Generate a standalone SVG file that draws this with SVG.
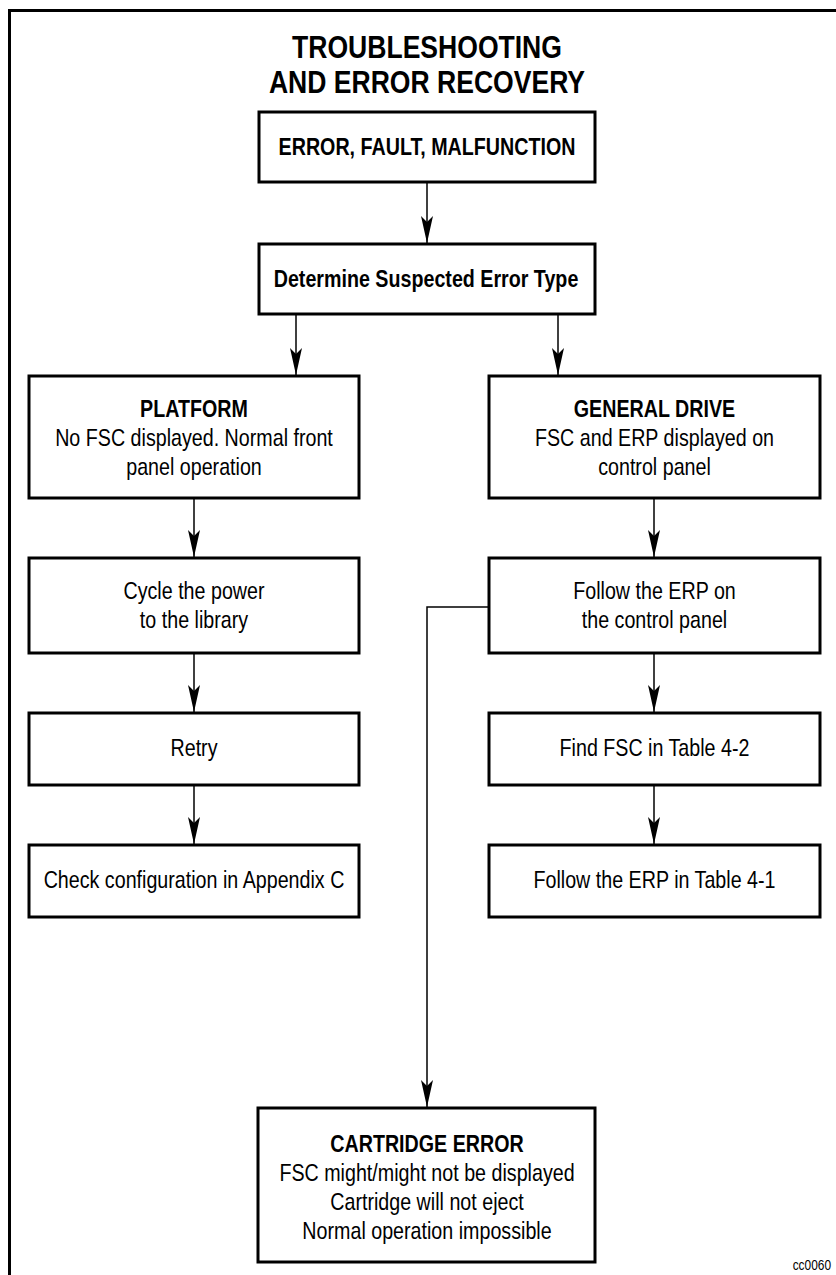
<svg xmlns="http://www.w3.org/2000/svg" width="836" height="1275" viewBox="0 0 836 1275">
<style>
.box{fill:#fff;stroke:#000;stroke-width:3}
.frame{fill:none;stroke:#000;stroke-width:3}
.conn{fill:none;stroke:#000;stroke-width:1.5}
text{font-family:"Liberation Sans",Arial,Helvetica,sans-serif;fill:#000;text-anchor:middle}
.t{font-size:32px;font-weight:bold}
.h{font-size:24px;font-weight:bold}
.b{font-size:24px}
.id{font-size:14px;text-anchor:end}
</style>
<defs>
<marker id="ah" viewBox="-27 -7 28 14" refX="0" refY="0" markerWidth="28" markerHeight="14" markerUnits="userSpaceOnUse" orient="auto">
<path d="M0,0 L-27,-6 L-21,0 L-27,6 Z" fill="#000"/>
</marker>
</defs>
<path class="frame" d="M9.5,1275 V10.5 H836"/>
<g id="title" transform="translate(427 0) scale(0.83 1)">
<text class="t" x="0" y="58">TROUBLESHOOTING</text>
<text class="t" x="0" y="93">AND ERROR RECOVERY</text>
</g>
<g id="connectors">
<path class="conn" d="M427,182 V243" marker-end="url(#ah)"/>
<path class="conn" d="M296,314 V375" marker-end="url(#ah)"/>
<path class="conn" d="M558,314 V375" marker-end="url(#ah)"/>
<path class="conn" d="M194,498 V557" marker-end="url(#ah)"/>
<path class="conn" d="M194,653 V712" marker-end="url(#ah)"/>
<path class="conn" d="M194,785 V844" marker-end="url(#ah)"/>
<path class="conn" d="M654,498 V557" marker-end="url(#ah)"/>
<path class="conn" d="M654,653 V712" marker-end="url(#ah)"/>
<path class="conn" d="M654,785 V844" marker-end="url(#ah)"/>
<path class="conn" d="M489,607 H427 V1107" marker-end="url(#ah)"/>
</g>
<g id="error">
<rect class="box" x="259" y="112" width="336" height="70"/>
<g transform="translate(427 0) scale(0.82 1)"><text class="h" x="0" y="155">ERROR, FAULT, MALFUNCTION</text></g>
</g>
<g id="determine">
<rect class="box" x="259" y="244" width="336" height="70"/>
<g transform="translate(426 0) scale(0.82 1)"><text class="h" x="0" y="287">Determine Suspected Error Type</text></g>
</g>
<g id="platform">
<rect class="box" x="29" y="376" width="330" height="122"/>
<g transform="translate(194 0) scale(0.82 1)">
<text class="h" x="0" y="417">PLATFORM</text>
<text class="b" x="0" y="446">No FSC displayed. Normal front</text>
<text class="b" x="0" y="475">panel operation</text>
</g>
</g>
<g id="general">
<rect class="box" x="489" y="376" width="331" height="122"/>
<g transform="translate(654.5 0) scale(0.82 1)">
<text class="h" x="0" y="417">GENERAL DRIVE</text>
<text class="b" x="0" y="446">FSC and ERP displayed on</text>
<text class="b" x="0" y="475">control panel</text>
</g>
</g>
<g id="cycle">
<rect class="box" x="29" y="558" width="330" height="95"/>
<g transform="translate(194 0) scale(0.82 1)">
<text class="b" x="0" y="599">Cycle the power</text>
<text class="b" x="0" y="628">to the library</text>
</g>
</g>
<g id="followerp">
<rect class="box" x="489" y="558" width="331" height="95"/>
<g transform="translate(654.5 0) scale(0.82 1)">
<text class="b" x="0" y="599">Follow the ERP on</text>
<text class="b" x="0" y="628">the control panel</text>
</g>
</g>
<g id="retry">
<rect class="box" x="29" y="713" width="330" height="72"/>
<g transform="translate(194 0) scale(0.82 1)"><text class="b" x="0" y="756">Retry</text></g>
</g>
<g id="findfsc">
<rect class="box" x="489" y="713" width="331" height="72"/>
<g transform="translate(654.5 0) scale(0.82 1)"><text class="b" x="0" y="756">Find FSC in Table 4-2</text></g>
</g>
<g id="checkconfig">
<rect class="box" x="29" y="845" width="330" height="72"/>
<g transform="translate(194 0) scale(0.82 1)"><text class="b" x="0" y="888">Check configuration in Appendix C</text></g>
</g>
<g id="followtable">
<rect class="box" x="489" y="845" width="331" height="72"/>
<g transform="translate(654.5 0) scale(0.82 1)"><text class="b" x="0" y="888">Follow the ERP in Table 4-1</text></g>
</g>
<g id="cartridge">
<rect class="box" x="258" y="1108" width="337" height="154"/>
<g transform="translate(427 0) scale(0.82 1)">
<text class="h" x="0" y="1152">CARTRIDGE ERROR</text>
<text class="b" x="0" y="1181">FSC might/might not be displayed</text>
<text class="b" x="0" y="1210">Cartridge will not eject</text>
<text class="b" x="0" y="1239">Normal operation impossible</text>
</g>
</g>
<g id="label" transform="translate(831 0) scale(0.85 1)"><text class="id" x="0" y="1270">cc0060</text></g>
</svg>
